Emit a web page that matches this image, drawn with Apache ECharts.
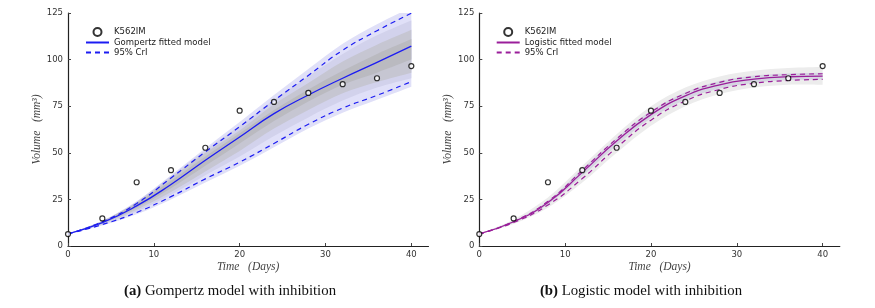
<!DOCTYPE html>
<html><head><meta charset="utf-8">
<script src="https://cdn.jsdelivr.net/npm/echarts@6/dist/echarts.min.js"></script>
<style>
html,body{margin:0;padding:0;background:#fff;width:875px;height:308px;overflow:hidden}
#a{position:absolute;left:0;top:0;width:437px;height:308px}
#b{position:absolute;left:437px;top:0;width:438px;height:308px}
</style>
</head><body><div id="a"></div><div id="b"></div>
<script>
// ---- data ----
const days = [0, 4, 8, 12, 16, 20, 24, 28, 32, 36, 40];
const observed = [6.4, 14.8, 34.2, 40.7, 52.7, 72.6, 77.3, 82.1, 86.8, 90.0, 96.5];
const xTicks = [0, 10, 20, 30, 40];

// Gompertz model
const gompMedian = [6.5, 12.5, 21.5, 33, 46, 58.5, 71, 81, 90, 98.5, 107.2];
const gompUpper  = [6.5, 13.0, 22.8, 36.5, 50.5, 64, 78, 91.5, 105, 115.5, 124.9];
const gompLower  = [6.5, 11.5, 18, 26.5, 36, 45, 55, 65.3, 74, 80.8, 88.2];
const gompOuterLow  = [6.5, 11, 17, 25, 34, 43, 53, 63, 71.5, 78.5, 85.5];
const gompOuterHigh = [6.5, 13.6, 24, 38, 52.5, 66.5, 81, 95, 108.5, 119, 128];
const gompMidLow    = [6.5, 11.6, 18.5, 27.5, 38, 48, 59, 69, 78, 85, 90];
const gompMidHigh   = [6.5, 13.5, 23.8, 37.5, 51.5, 64.5, 78.5, 91, 103, 113, 121];
const gompInnerLow  = [6.5, 12, 19.5, 29, 40, 51, 63, 73, 82, 88, 93];
const gompInnerHigh = [6.5, 13.4, 23.5, 36.5, 50, 62, 76, 87.5, 99, 108, 116];
const gompCoreLow   = [6.5, 12.2, 20.5, 31, 43, 55, 67, 77.5, 86.5, 93, 100];
const gompCoreHigh  = [6.5, 13.2, 23, 35, 48, 60.5, 73, 84, 94, 103, 111];

// Logistic model
const logiMedian = [6.5, 13.0, 23.3, 39.5, 56.3, 70.5, 80.5, 86.5, 89.5, 90.8, 91.1];
const logiUpper  = [6.5, 13.2, 24.0, 40.6, 57.5, 71.8, 81.8, 87.8, 90.8, 91.9, 92.4];
const logiLower  = [6.5, 12.6, 22.0, 36.2, 52.8, 67.5, 77.8, 84.0, 87.3, 88.8, 89.4];
const logiOuterLow  = [6.5, 11.8, 20.5, 34, 50, 64.5, 75, 81.5, 85, 86.5, 86.5];
const logiOuterHigh = [6.5, 14.2, 26, 43, 60, 75, 85, 91, 94, 95.5, 96];
const logiInnerLow  = [6.5, 12.5, 22.3, 37.5, 54, 68.5, 78.5, 84.5, 87.5, 89, 89.3];
const logiInnerHigh = [6.5, 13.5, 24.3, 41.5, 58, 72.5, 82.5, 88.5, 91.5, 92.6, 93];

const yMin = 0, yMax = 125, yStep = 25;

// ---- helpers ----
function pairs(vals) { return days.map((d, i) => [d, vals[i]]); }

// smooth path through pixel points (Catmull-Rom -> cubic Bezier)
function splinePath(pts, moveFirst) {
  let s = (moveFirst ? 'M' : 'L') + pts[0][0] + ',' + pts[0][1];
  for (let i = 0; i < pts.length - 1; i++) {
    const p0 = pts[Math.max(i - 1, 0)], p1 = pts[i], p2 = pts[i + 1], p3 = pts[Math.min(i + 2, pts.length - 1)];
    const c1 = [p1[0] + (p2[0] - p0[0]) / 6, p1[1] + (p2[1] - p0[1]) / 6];
    const c2 = [p2[0] - (p3[0] - p1[0]) / 6, p2[1] - (p3[1] - p1[1]) / 6];
    s += 'C' + c1[0] + ',' + c1[1] + ',' + c2[0] + ',' + c2[1] + ',' + p2[0] + ',' + p2[1];
  }
  return s;
}

function band(id, low, high, color) {
  return {
    type: 'custom', name: id, silent: true, clip: true, z: 1,
    data: [[0, 0]],
    renderItem: function (params, api) {
      const top = days.map((d, i) => api.coord([d, high[i]]));
      const bot = days.map((d, i) => api.coord([d, low[i]])).reverse();
      const pathData = splinePath(top, true) + splinePath(bot, false) + 'Z';
      return { type: 'path', shape: { pathData: pathData }, style: { fill: color, stroke: null } };
    }
  };
}

function makeOption(cfg) {
  const tickFont = { fontFamily: 'DejaVu Sans', fontSize: 8.5, color: '#333' };
  const nameFont = { fontFamily: 'Liberation Serif', fontStyle: 'italic', fontSize: 11.5, color: '#444' };
  const series = cfg.bands.map(b => band(b[0], b[1], b[2], b[3]));
  series.push(
    { type: 'line', name: '95% CrI', data: pairs(cfg.upper), smooth: true, symbol: 'none', z: 3,
      itemStyle: { color: cfg.color, opacity: 0 },
      lineStyle: { color: cfg.color, width: 1.2, type: [5, 4] } },
    { type: 'line', name: '95% CrI', data: pairs(cfg.lower), smooth: true, symbol: 'none', z: 3,
      itemStyle: { color: cfg.color, opacity: 0 },
      lineStyle: { color: cfg.color, width: 1.2, type: [5, 4] } },
    { type: 'line', name: cfg.fitName, data: pairs(cfg.median), smooth: true, symbol: 'none', z: 4,
      itemStyle: { color: cfg.color, opacity: 0 },
      lineStyle: { color: cfg.color, width: 1.3 } },
    { type: 'scatter', name: 'K562IM', data: pairs(observed), symbol: 'circle', symbolSize: 5,
      symbolKeepAspect: true, z: 5,
      itemStyle: { color: '#fff', borderColor: '#000', borderWidth: 1.2 } }
  );
  return {
    animation: false,
    backgroundColor: '#fff',
    title: {
      text: cfg.caption,
      left: cfg.captionX, top: 279, textAlign: 'center',
      textStyle: { fontFamily: 'Liberation Serif', fontSize: 14.8, fontWeight: 'normal', color: '#111',
        rich: { b: { fontFamily: 'Liberation Serif', fontSize: 14.8, fontWeight: 'bold', color: '#111' } } }
    },
    legend: {
      orient: 'vertical', left: cfg.legendX, top: 22,
      itemWidth: 23, itemHeight: 8, itemGap: 1,
      data: [
        'K562IM',
        { name: cfg.fitName, itemStyle: { opacity: 0 } },
        { name: '95% CrI', itemStyle: { opacity: 0 } }
      ],
      textStyle: { fontFamily: 'DejaVu Sans', fontSize: 8.5, color: '#222', lineHeight: 8 }
    },
    grid: { left: cfg.gridLeft, width: 360.5, top: 13, height: 233, outerBoundsMode: 'none', containLabel: false },
    xAxis: {
      type: 'value', min: 0, max: 42,
      name: 'Time   (Days)', nameLocation: 'middle', nameGap: 15, nameMoveOverlap: false,
      nameTextStyle: nameFont,
      axisLine: { show: true, lineStyle: { color: '#222', width: 1.2 } },
      axisTick: { show: true, inside: true, length: 3, customValues: xTicks, lineStyle: { color: '#444' } },
      axisLabel: { customValues: xTicks, margin: 4, ...tickFont },
      splitLine: { show: false }
    },
    yAxis: {
      type: 'value', min: yMin, max: yMax, interval: yStep,
      name: 'Volume   (mm³)', nameLocation: 'middle', nameGap: 25, nameMoveOverlap: false,
      nameTextStyle: nameFont,
      axisLine: { show: true, lineStyle: { color: '#222', width: 1.2 } },
      axisTick: { show: true, inside: true, length: 3, lineStyle: { color: '#444' } },
      axisLabel: { margin: 5, ...tickFont },
      splitLine: { show: false }
    },
    series: series
  };
}

const chartA = echarts.init(document.getElementById('a'), null, { renderer: 'canvas' });
chartA.setOption(makeOption({
  color: '#1c1cf2', fitName: 'Gompertz fitted model',
  median: gompMedian, upper: gompUpper, lower: gompLower,
  bands: [
    ['gOuter', gompOuterLow, gompOuterHigh, '#e0e0f8'],
    ['gMid', gompMidLow, gompMidHigh, '#d2d2ec'],
    ['gInner', gompInnerLow, gompInnerHigh, '#c6c6d2'],
    ['gCore', gompCoreLow, gompCoreHigh, '#babac0']
  ],
  caption: '{b|(a)} Gompertz model with inhibition', captionX: 225,
  legendX: 80, gridLeft: 68
}));

const chartB = echarts.init(document.getElementById('b'), null, { renderer: 'canvas' });
chartB.setOption(makeOption({
  color: '#9a1e9a', fitName: 'Logistic fitted model',
  median: logiMedian, upper: logiUpper, lower: logiLower,
  bands: [
    ['lOuter', logiOuterLow, logiOuterHigh, '#ececec'],
    ['lInner', logiInnerLow, logiInnerHigh, '#d6d6e2']
  ],
  caption: '{b|(b)} Logistic model with inhibition', captionX: 199,
  legendX: 53.7, gridLeft: 42.3
}));
</script>
</body></html>
